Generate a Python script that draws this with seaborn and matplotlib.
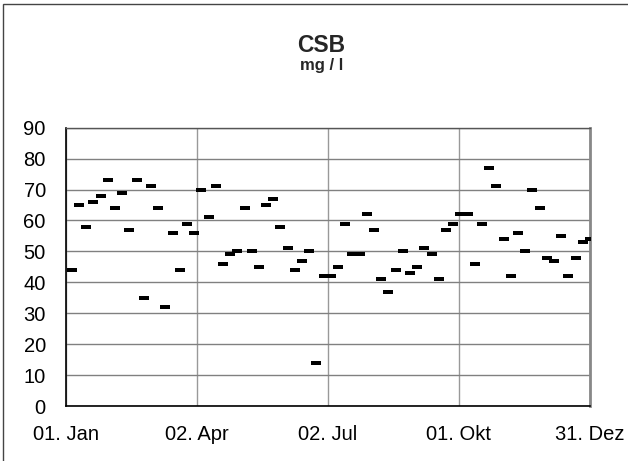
import pandas as pd
import seaborn as sns
import matplotlib.pyplot as plt
from matplotlib.path import Path
from matplotlib.patches import Rectangle

# CSB readings, one every 5 days (05. Jan ... 31. Dez)
start_date = '2001-01-05'
step = '5D'
csb = [44, 65, 58, 66, 68, 73, 64, 69, 57, 73, 35, 71, 64, 32, 56, 44, 59, 56, 70, 61,
       71, 46, 49, 50, 64, 50, 45, 65, 67, 58, 51, 44, 47, 50, 14,
       42, 42,
       45, 59, 49, 49, 62, 57, 41, 37, 44, 50, 43, 45, 51, 49, 41, 57, 59,
       62, 62, 46, 59, 77, 71, 54, 42, 56, 50, 70, 64, 48, 47, 55, 42, 48, 53, 54]
tick_dates = ['2001-01-01', '2001-04-02', '2001-07-02', '2001-10-01', '2001-12-31']
tick_labels = ['01. Jan', '02. Apr', '02. Jul', '01. Okt', '31. Dez']
y_ticks = list(range(0, 91, 10))

df = pd.DataFrame({'datum': pd.date_range(start_date, periods=len(csb), freq=step),
                   'csb': csb})

sns.set_style('white')
plt.rcParams['font.family'] = ['Liberation Sans', 'DejaVu Sans']

fig = plt.figure(figsize=(6.28, 4.61), dpi=100)
ax = fig.add_axes([66/628, 1 - 406/461, 524/628, 278.3/461])

# flat dash marker
dash = Path([(-1, -0.45), (1, -0.45), (1, 0.45), (-1, 0.45), (-1, -0.45)],
            [Path.MOVETO, Path.LINETO, Path.LINETO, Path.LINETO, Path.CLOSEPOLY])
sns.scatterplot(data=df, x='datum', y='csb', marker=dash, s=6.5**2,
                color='black', linewidth=0, ax=ax, zorder=3)

ax.set_xlim(pd.Timestamp(tick_dates[0]), pd.Timestamp(tick_dates[-1]))
ax.set_ylim(0, 90)
ax.set_xticks(pd.to_datetime(tick_dates))
ax.set_xticklabels(tick_labels)
ax.set_yticks(y_ticks)
ax.set_xlabel('')
ax.set_ylabel('')

ax.grid(True, axis='y', color='#808080', lw=1)
ax.grid(True, axis='x', color='#999999', lw=1)
ax.set_axisbelow(True)

ax.tick_params(axis='both', labelsize=14.5, colors='black', direction='out')
ax.tick_params(axis='x', length=4.5, width=1, color='#888888', pad=9)
ax.tick_params(axis='y', length=4.5, width=1, color='#888888', pad=10)

ax.spines['left'].set_color('black')
ax.spines['bottom'].set_color('black')
ax.spines['left'].set_linewidth(1.2)
ax.spines['bottom'].set_linewidth(1.2)
ax.spines['top'].set_color('#555555')
ax.spines['top'].set_linewidth(1)
ax.spines['right'].set_color('#888888')
ax.spines['right'].set_linewidth(2)
for s in ax.spines.values():
    s.set_visible(True)

fig.text(321/628, 1 - 51.5/461, 'CSB', ha='center', va='baseline',
         fontsize=16.5, fontweight='bold')
fig.text(322/628, 1 - 70/461, 'mg / l', ha='center', va='baseline',
         fontsize=12, fontweight='bold')

# outer chart frame
fig.add_artist(Rectangle((3.5/628, -0.05), 1.1, 1.05 - 3.5/461,
                         transform=fig.transFigure, fill=False,
                         ec='#444444', lw=1))

fig.savefig('out.png', dpi=100)
